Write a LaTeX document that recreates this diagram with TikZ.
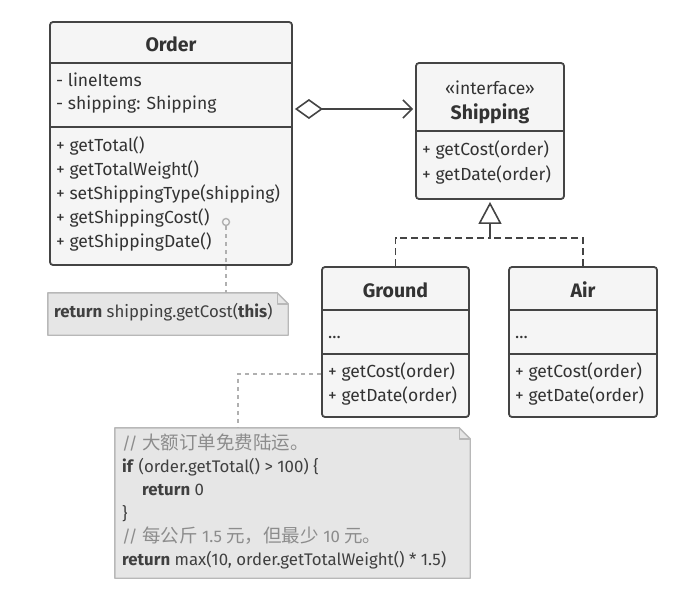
\documentclass[tikz,border=0pt]{standalone}
\usepackage{fontspec}
\setmainfont{Fira Sans}
\newfontfamily\cjkfam{Noto Sans CJK SC}
\newcommand{\cjk}{\cjkfam\fontsize{18.5}{20}\selectfont}
\usetikzlibrary{arrows.meta}
\definecolor{boxline}{HTML}{444444}
\definecolor{boxfill}{HTML}{F5F5F5}
\definecolor{txt}{HTML}{333333}
\definecolor{notefill}{HTML}{E6E6E6}
\definecolor{noteline}{HTML}{B8B8B8}
\definecolor{notetxt}{HTML}{404040}
\definecolor{comment}{HTML}{8C8C8C}
\definecolor{linkgray}{HTML}{B0B0B0}
\tikzset{
  umlbox/.style={draw=boxline, fill=boxfill, line width=1.8pt, rounded corners=3pt, inner sep=0pt},
  divider/.style={draw=boxline, line width=1.8pt},
  umltxt/.style={font=\fontsize{17.5}{20}\selectfont, text=txt, inner sep=0pt, anchor=mid west},
  umltitle/.style={font=\fontsize{19.5}{22}\selectfont\bfseries, text=txt, inner sep=0pt},
  notebox/.style={inner sep=0pt},
  notepath/.style={draw=noteline, fill=notefill, line width=1.4pt, line join=round},
  notetxt/.style={font=\fontsize{16.8}{19}\selectfont, text=notetxt, inner sep=0pt, anchor=mid west},
  notelink/.style={draw=linkgray, line width=1.4pt, dash pattern=on 4pt off 4pt},
  inherit/.style={draw=boxline, line width=1.6pt, dash pattern=on 7pt off 4pt},
}
\begin{document}
\begin{tikzpicture}[x=1pt, y=-1pt]
\useasboundingbox (0,0) rectangle (696,605);

% ---------- Order ----------
\node[umlbox, minimum width=242pt, minimum height=243pt] (order) at (171,143.5) {};
\draw[divider] (50,63) -- (292,63);
\draw[divider] (50,127) -- (292,127);
\node[umltitle] (ordtitle) at (171,44) {Order};
\node[umltxt] (oa1) at (56,84) {- lineItems};
\node[umltxt] (oa2) at (56,107) {- shipping: Shipping};
\node[umltxt] (om1) at (56,149) {+ getTotal()};
\node[umltxt] (om2) at (56,173) {+ getTotalWeight()};
\node[umltxt] (om3) at (56,197) {+ setShippingType(shipping)};
\node[umltxt] (om4) at (56,221) {+ getShippingCost()};
\node[umltxt] (om5) at (56,245) {+ getShippingDate()};

% ---------- Shipping ----------
\node[umlbox, minimum width=148pt, minimum height=136pt] (shipping) at (490,131) {};
\draw[divider] (416,131) -- (564,131);
\node[font=\fontsize{17.5}{20}\selectfont, text=txt, inner sep=0pt] (sst) at (490,88) {«interface»};
\node[umltitle] (stitle) at (490,114) {Shipping};
\node[umltxt] (sm1) at (422,153) {+ getCost(order)};
\node[umltxt] (sm2) at (422,178) {+ getDate(order)};

% ---------- Ground ----------
\node[umlbox, minimum width=147pt, minimum height=150pt] (ground) at (395.5,342) {};
\draw[divider] (322,310) -- (469,310);
\draw[divider] (322,354) -- (469,354);
\node[umltitle] (gtitle) at (395.5,290) {Ground};
\node[umltxt] (ga) at (328,336) {...};
\node[umltxt] (gm1) at (328,375) {+ getCost(order)};
\node[umltxt] (gm2) at (328,399) {+ getDate(order)};

% ---------- Air ----------
\node[umlbox, minimum width=148pt, minimum height=150pt] (air) at (583,342) {};
\draw[divider] (509,310) -- (657,310);
\draw[divider] (509,354) -- (657,354);
\node[umltitle] (atitle) at (583,290) {Air};
\node[umltxt] (aa) at (515,336) {...};
\node[umltxt] (am1) at (515,375) {+ getCost(order)};
\node[umltxt] (am2) at (515,399) {+ getDate(order)};

% ---------- aggregation ----------
\coordinate (aggY) at (0,109);
\draw[draw=boxline, line width=1.6pt,
  {Diamond[open, length=28pt, width=20pt, line width=1.6pt]}-{Straight Barb[length=9pt, width=18pt, line width=1.6pt]}]
  ([xshift=2pt]order.east |- aggY) -- ([xshift=-2pt]shipping.west |- aggY);

% ---------- realization ----------
\coordinate (junc) at (490,238);
\draw[inherit] (ground.north) |- (junc);
\draw[inherit] (air.north) |- (junc);
\draw[draw=boxline, line width=1.6pt, -{Triangle[open, length=22pt, width=23pt, line width=1.6pt]}]
  (junc) -- ([yshift=-2pt]shipping.south);

% ---------- note 1 ----------
\node[notebox, minimum width=240pt, minimum height=42pt] (note1) at (168,314) {};
\draw[notepath] (note1.north west) -- ([xshift=-11pt]note1.north east) -- ([yshift=-11pt]note1.north east)
  -- (note1.south east) -- (note1.south west) -- cycle;
\draw[draw=noteline, line width=1.4pt, line join=round] ([xshift=-11pt]note1.north east) -- ([xshift=-11pt,yshift=-11pt]note1.north east) -- ([yshift=-11pt]note1.north east);
\node[notetxt] (n1t) at (54,315) {\textbf{return} shipping.getCost(\textbf{this})};
\coordinate (dot) at (226,222);
\draw[draw=linkgray, line width=1.4pt] (dot) circle (3.5pt);
\draw[notelink] ([yshift=-4pt]dot) -- (note1.north -| dot);

% ---------- note 2 ----------
\node[notebox, minimum width=355pt, minimum height=150pt] (note2) at (292.5,503) {};
\draw[notepath] (note2.north west) -- ([xshift=-11pt]note2.north east) -- ([yshift=-11pt]note2.north east)
  -- (note2.south east) -- (note2.south west) -- cycle;
\draw[draw=noteline, line width=1.4pt, line join=round] ([xshift=-11pt]note2.north east) -- ([xshift=-11pt,yshift=-11pt]note2.north east) -- ([yshift=-11pt]note2.north east);
\node[notetxt, text=comment] (n2a) at (122,447) {// {\cjk 大额订单免费陆运。}};
\node[notetxt] (n2b) at (122,470) {\textbf{if} (order.getTotal() > 100) \{};
\node[notetxt] (n2c) at (142,493) {\textbf{return} 0};
\node[notetxt] (n2d) at (122,517) {\}};
\node[notetxt, text=comment] (n2e) at (122,540) {// {\cjk 每公斤} 1.5 {\cjk 元，但最少} 10 {\cjk 元。}};
\node[notetxt] (n2f) at (122,563) {\textbf{return} max(10, order.getTotalWeight() * 1.5)};
\coordinate (gc) at (0,374);
\coordinate (n2x) at (238,0);
\draw[notelink] (ground.west |- gc) -| (n2x |- note2.north);

\end{tikzpicture}
\end{document}
